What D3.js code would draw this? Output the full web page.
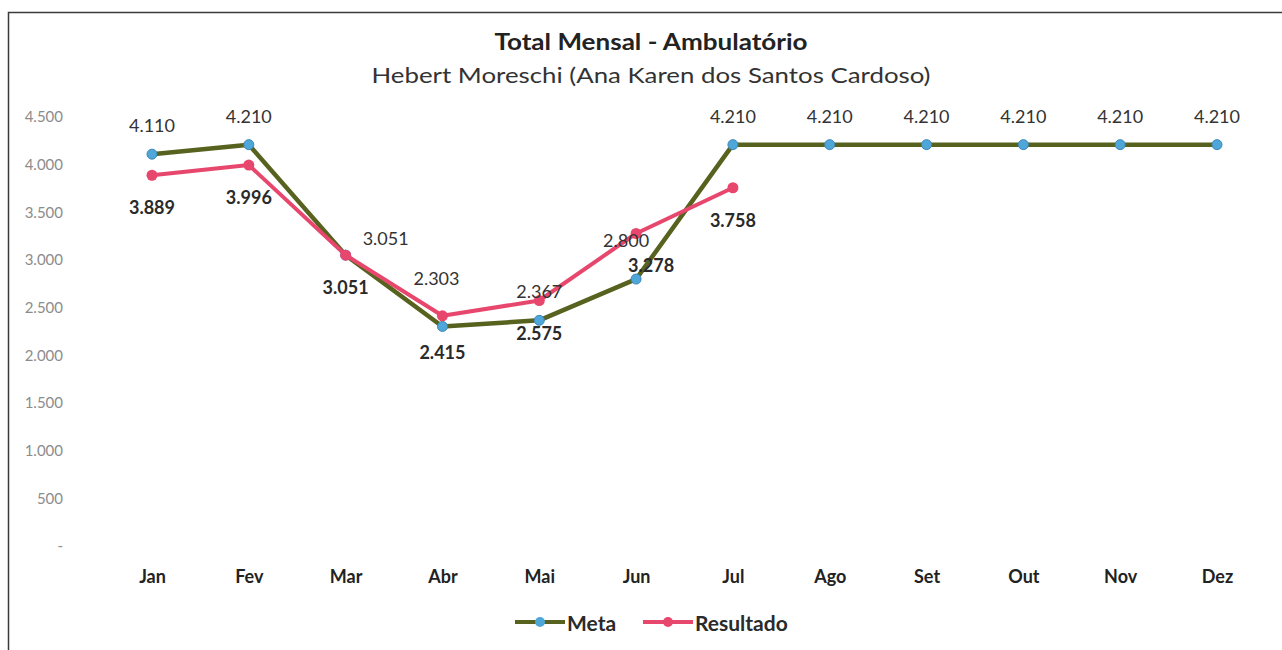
<!DOCTYPE html>
<html>
<head>
<meta charset="utf-8">
<script src="https://cdn.jsdelivr.net/npm/d3@7"></script>
<style>
  body { margin: 0; background: #fff; }
  svg { display: block; font-family: Lato, "Open Sans", sans-serif; }
</style>
</head>
<body>
<div id="chart"></div>
<script>
// === Data ===
const months = ["Jan", "Fev", "Mar", "Abr", "Mai", "Jun", "Jul", "Ago", "Set", "Out", "Nov", "Dez"];
const meta = [4110, 4210, 3051, 2303, 2367, 2800, 4210, 4210, 4210, 4210, 4210, 4210];
const resultado = [3889, 3996, 3051, 2415, 2575, 3278, 3758];
const yTicks = [0, 500, 1000, 1500, 2000, 2500, 3000, 3500, 4000, 4500];

// label nudges (dx, dy) for labels that were moved by hand in the original
const metaNudge = { Mar: [40, 12], Abr: [-6, -19], Jun: [-10, -10] };
const resNudge = { Abr: [0, 4], Jun: [15, 0] };

const width = 1282, height = 650;

const svg = d3.select("#chart")
  .append("svg")
  .attr("width", width)
  .attr("height", height);

// frame
svg.append("rect")
  .attr("x", 8.5).attr("y", 12.5)
  .attr("width", 1300).attr("height", 700)
  .attr("fill", "none")
  .attr("stroke", "#3a3a3a")
  .attr("stroke-width", 1.5);

// === Titles ===
svg.append("text")
  .attr("x", 651).attr("y", 50)
  .attr("text-anchor", "middle")
  .attr("font-size", "22px")
  .attr("font-weight", "bold")
  .attr("fill", "#222")
  .attr("textLength", 313)
  .attr("lengthAdjust", "spacingAndGlyphs")
  .text("Total Mensal - Ambulatório");

svg.append("text")
  .attr("x", 651).attr("y", 83)
  .attr("text-anchor", "middle")
  .attr("font-size", "22px")
  .attr("fill", "#333")
  .attr("textLength", 559)
  .attr("lengthAdjust", "spacingAndGlyphs")
  .text("Hebert Moreschi (Ana Karen dos Santos Cardoso)");

// === Scales ===
const x = d3.scalePoint().domain(months).range([152, 1217]);
const y = d3.scaleLinear().domain([0, 4500]).range([546, 117]);

const ptBR = d3.formatLocale({ decimal: ",", thousands: ".", grouping: [3], currency: ["R$", ""] });
const fmt = ptBR.format(",d");

// === Axes ===
const yAxis = svg.append("g")
  .attr("transform", "translate(66,0)")
  .call(d3.axisLeft(y).tickValues(yTicks).tickSize(0).tickPadding(3)
    .tickFormat((d) => (d === 0 ? "-" : fmt(d))));
yAxis.select(".domain").remove();
yAxis.selectAll("text")
  .attr("font-family", "Lato, sans-serif")
  .attr("font-size", "15px")
  .attr("fill", "#8c8c8c");

const xAxis = svg.append("g")
  .attr("transform", "translate(0,546)")
  .call(d3.axisBottom(x).tickSize(0).tickPadding(24));
xAxis.select(".domain").remove();
xAxis.selectAll("text")
  .attr("font-family", "Lato, sans-serif")
  .attr("font-size", "18px")
  .attr("font-weight", "bold")
  .attr("fill", "#222");

// === Lines ===
const metaColor = "#57621f";
const resColor = "#e8476d";

const line = d3.line()
  .x((d, i) => x(months[i]))
  .y((d) => y(d));

svg.append("path")
  .datum(meta)
  .attr("d", line)
  .attr("fill", "none")
  .attr("stroke", metaColor)
  .attr("stroke-width", 4.5)
  .attr("stroke-linejoin", "round");

svg.selectAll(".meta-dot")
  .data(meta)
  .enter()
  .append("circle")
  .attr("class", "meta-dot")
  .attr("cx", (d, i) => x(months[i]))
  .attr("cy", (d) => y(d))
  .attr("r", 5)
  .attr("fill", "#4ea7d8")
  .attr("stroke", "#3b88b8")
  .attr("stroke-width", 1);

svg.append("path")
  .datum(resultado)
  .attr("d", line)
  .attr("fill", "none")
  .attr("stroke", resColor)
  .attr("stroke-width", 4)
  .attr("stroke-linejoin", "round");

svg.selectAll(".res-dot")
  .data(resultado)
  .enter()
  .append("circle")
  .attr("class", "res-dot")
  .attr("cx", (d, i) => x(months[i]))
  .attr("cy", (d) => y(d))
  .attr("r", 5.5)
  .attr("fill", resColor);

// === Data labels ===
svg.selectAll(".meta-label")
  .data(meta)
  .enter()
  .append("text")
  .attr("class", "meta-label")
  .attr("x", (d, i) => x(months[i]) + (metaNudge[months[i]] || [0, 0])[0])
  .attr("y", (d, i) => y(d) - 29 + (metaNudge[months[i]] || [0, 0])[1])
  .attr("dominant-baseline", "central")
  .attr("text-anchor", "middle")
  .attr("font-size", "18px")
  .attr("fill", "#333")
  .text((d) => fmt(d));

svg.selectAll(".res-label")
  .data(resultado)
  .enter()
  .append("text")
  .attr("class", "res-label")
  .attr("x", (d, i) => x(months[i]) + (resNudge[months[i]] || [0, 0])[0])
  .attr("y", (d, i) => y(d) + 32 + (resNudge[months[i]] || [0, 0])[1])
  .attr("dominant-baseline", "central")
  .attr("text-anchor", "middle")
  .attr("font-size", "18px")
  .attr("font-weight", "bold")
  .attr("fill", "#2a2a2a")
  .text((d) => fmt(d));

// === Legend ===
const legendItems = [
  { name: "Meta", color: metaColor, dot: "#4ea7d8", x: 515 },
  { name: "Resultado", color: resColor, dot: resColor, x: 643 }
];
const legend = svg.append("g").attr("transform", "translate(0,622)");
legendItems.forEach((item) => {
  legend.append("line")
    .attr("x1", item.x).attr("x2", item.x + 50)
    .attr("y1", 0).attr("y2", 0)
    .attr("stroke", item.color)
    .attr("stroke-width", 4);
  legend.append("circle")
    .attr("cx", item.x + 25).attr("cy", 0)
    .attr("r", 5)
    .attr("fill", item.dot);
  legend.append("text")
    .attr("x", item.x + 52).attr("y", 0)
    .attr("dominant-baseline", "central")
    .attr("font-size", "21px")
    .attr("font-weight", "bold")
    .attr("fill", "#2a2a2a")
    .text(item.name);
});
</script>
</body>
</html>
